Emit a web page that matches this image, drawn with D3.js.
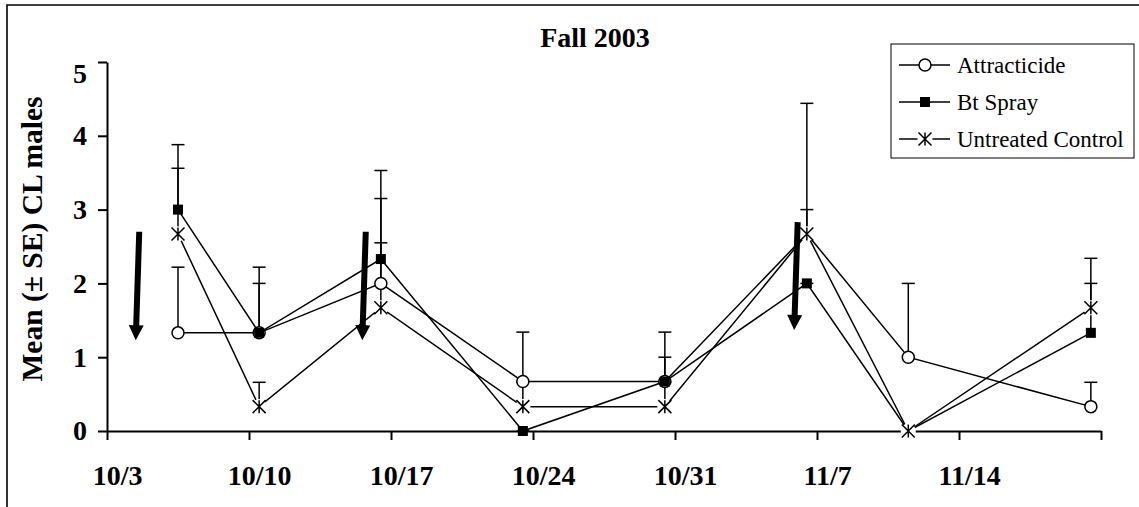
<!DOCTYPE html>
<html>
<head>
<meta charset="utf-8">
<script src="https://cdn.jsdelivr.net/npm/d3@7"></script>
<style>
  body { margin: 0; background: #fff; }
  svg { display: block; }
</style>
</head>
<body>
<svg id="chart"></svg>
<script>
// Chart dimensions
const width = 1139;
const height = 507;
const marginTop = 62;
const marginRight = 38;
const marginBottom = 76;
const marginLeft = 107;

// DATA
const sampleDates = ["2003-10-06", "2003-10-10", "2003-10-16", "2003-10-23", "2003-10-30", "2003-11-06", "2003-11-11", "2003-11-20"];
const attracticide   = [1.33, 1.33, 2.00, 0.67, 0.67, 2.67, 1.00, 0.33];
const attracticideSE = [0.89, 0.67, 1.15, 0.67, 0.67, 0.33, 1.00, 0.33];
const btSpray   = [3.00, 1.33, 2.33, 0.00, 0.67, 2.00, 0.00, 1.33];
const btSpraySE = [0.88, 0.89, 1.20, 0.00, 0.33, 0.00, 0.00, 0.67];
const control   = [2.67, 0.33, 1.67, 0.33, 0.33, 2.67, 0.00, 1.67];
const controlSE = [0.89, 0.33, 0.88, 0.33, 0.33, 1.77, 0.00, 0.67];

const seriesNames = ["Attracticide", "Bt Spray", "Untreated Control"];
const seriesMarkers = ["circle", "square", "star"];

const tickDates = ["2003-10-03", "2003-10-10", "2003-10-17", "2003-10-24", "2003-10-31", "2003-11-07", "2003-11-14", "2003-11-21"];
const tickLabels = ["10/3", "10/10", "10/17", "10/24", "10/31", "11/7", "11/14", ""];
const yTicks = [0, 1, 2, 3, 4, 5];

// spray applications (arrows)
const sprayDates = ["2003-10-04T10:00", "2003-10-15T14:00", "2003-11-05T21:00"];
const arrowTop = [2.70, 2.70, 2.83];
const arrowTip = [1.23, 1.23, 1.37];

const parse = d3.utcParse("%Y-%m-%d");
const parseTime = d3.utcParse("%Y-%m-%dT%H:%M");

const series = seriesNames.map((name, i) => ({
  name,
  marker: seriesMarkers[i],
  values: [attracticide, btSpray, control][i].map((v, j) => ({
    date: d3.utcHour.offset(parse(sampleDates[j]), 12),
    value: v,
    se: [attracticideSE, btSpraySE, controlSE][i][j]
  }))
}));

// Scales
const x = d3.scaleUtc()
  .domain([parse(tickDates[0]), parse(tickDates[tickDates.length - 1])])
  .range([marginLeft, width - marginRight]);

const y = d3.scaleLinear()
  .domain([0, 5])
  .range([height - marginBottom, marginTop]);

const halfDay = x(d3.utcHour.offset(x.domain()[0], 12)) - x(x.domain()[0]);

const font = "'Liberation Serif', 'Times New Roman', serif";

const svg = d3.select("#chart")
  .attr("width", width)
  .attr("height", height)
  .attr("viewBox", [0, 0, width, height]);

// outer frame (top and left edges visible)
svg.append("path")
  .attr("d", `M7,${height} V5 H${width}`)
  .attr("fill", "none")
  .attr("stroke", "#000")
  .attr("stroke-width", 1.6);

// Title
svg.append("text")
  .attr("x", (x.range()[0] + x.range()[1]) / 2 - 9)
  .attr("y", 47)
  .attr("text-anchor", "middle")
  .attr("font-family", font)
  .attr("font-weight", "bold")
  .attr("font-size", 28)
  .text("Fall 2003");

// Y axis label
svg.append("text")
  .attr("transform", "translate(42,239) rotate(-90)")
  .attr("text-anchor", "middle")
  .attr("font-family", font)
  .attr("font-weight", "bold")
  .attr("font-size", 29.5)
  .text("Mean (± SE) CL males");

// Axes
svg.append("g")
  .attr("transform", `translate(0,${y(0)})`)
  .call(d3.axisBottom(x)
    .tickValues(tickDates.map(parse))
    .tickSize(9)
    .tickSizeOuter(0)
    .tickPadding(25)
    .tickFormat((d, i) => tickLabels[i]))
  .call(g => g.selectAll("path, line").attr("stroke-width", 2))
  .call(g => g.selectAll("text")
    .attr("x", halfDay)
    .attr("font-family", font)
    .attr("font-weight", "bold")
    .attr("font-size", 28)
    .attr("fill", "#000"));

svg.append("g")
  .attr("transform", `translate(${marginLeft},0)`)
  .call(d3.axisLeft(y)
    .tickValues(yTicks)
    .tickSize(9)
    .tickSizeOuter(0)
    .tickPadding(11)
    .tickFormat(d3.format("d")))
  .call(g => g.selectAll("path, line").attr("stroke-width", 2))
  .call(g => g.selectAll("text")
    .attr("dy", d => d === 5 ? "0.72em" : "0.32em")
    .attr("font-family", font)
    .attr("font-weight", "bold")
    .attr("font-size", 28)
    .attr("fill", "#000"));

// Marker drawing
function drawMarker(g, type, cx, cy) {
  if (type === "circle") {
    g.append("circle")
      .attr("cx", cx).attr("cy", cy).attr("r", 6)
      .attr("fill", "#fff").attr("stroke", "#000").attr("stroke-width", 1.5);
  } else if (type === "square") {
    g.append("rect")
      .attr("x", cx - 5).attr("y", cy - 5)
      .attr("width", 10).attr("height", 10)
      .attr("fill", "#000");
  } else {
    // Excel "star": an X with a vertical stroke, on a white backing
    const s = 6.5;
    g.append("circle")
      .attr("cx", cx).attr("cy", cy).attr("r", 7.6)
      .attr("fill", "#fff");
    g.append("path")
      .attr("d", `M${cx - s},${cy - s}L${cx + s},${cy + s}M${cx - s},${cy + s}L${cx + s},${cy - s}M${cx},${cy - s}V${cy + s}`)
      .attr("stroke", "#000").attr("stroke-width", 1.5).attr("fill", "none");
  }
}

// Error bars (upper only), drawn first
const capHalf = 6.5;
const errG = svg.append("g").attr("stroke", "#000").attr("stroke-width", 1.5);
series.forEach(s => {
  s.values.forEach(d => {
    const cx = x(d.date);
    errG.append("line")
      .attr("x1", cx).attr("x2", cx)
      .attr("y1", y(d.value)).attr("y2", y(d.value + d.se));
    errG.append("line")
      .attr("x1", cx - capHalf).attr("x2", cx + capHalf)
      .attr("y1", y(d.value + d.se)).attr("y2", y(d.value + d.se));
  });
});

// Series lines and markers
const line = d3.line()
  .x(d => x(d.date))
  .y(d => y(d.value));

series.forEach(s => {
  const g = svg.append("g");
  g.append("path")
    .datum(s.values)
    .attr("d", line)
    .attr("fill", "none")
    .attr("stroke", "#000")
    .attr("stroke-width", 1.5);
  s.values.forEach(d => drawMarker(g, s.marker, x(d.date), y(d.value)));
});

// Spray arrows
const arrowG = svg.append("g").attr("fill", "#000");
sprayDates.forEach((dt, i) => {
  const tx = x(parseTime(dt)), ty = y(arrowTip[i]);
  const sx = tx + 3.5, sy = y(arrowTop[i]);
  const len = Math.hypot(sx - tx, sy - ty);
  const ux = (sx - tx) / len, uy = (sy - ty) / len;   // unit from tip to top
  const px = -uy, py = ux;                              // perpendicular
  const headL = 15, headW = 7.5, shaftW = 3;
  const bx = tx + ux * headL, by = ty + uy * headL;
  const pts = [
    [tx, ty],
    [bx + px * headW, by + py * headW],
    [bx + px * shaftW, by + py * shaftW],
    [sx + px * shaftW, sy + py * shaftW],
    [sx - px * shaftW, sy - py * shaftW],
    [bx - px * shaftW, by - py * shaftW],
    [bx - px * headW, by - py * headW]
  ];
  arrowG.append("path").attr("d", "M" + pts.map(p => p.join(",")).join("L") + "Z");
});

// Legend
const legend = svg.append("g");
legend.append("rect")
  .attr("x", 891).attr("y", 44)
  .attr("width", 243).attr("height", 114)
  .attr("fill", "#fff")
  .attr("stroke", "#000")
  .attr("stroke-width", 1);

series.forEach((s, i) => {
  const ly = 65 + i * 37;
  legend.append("line")
    .attr("x1", 899).attr("x2", 950)
    .attr("y1", ly).attr("y2", ly)
    .attr("stroke", "#000").attr("stroke-width", 1.5);
  drawMarker(legend, s.marker, 925, ly);
  legend.append("text")
    .attr("x", 957).attr("y", ly + 8)
    .attr("font-family", font)
    .attr("font-size", 23)
    .text(s.name);
});
</script>
</body>
</html>
